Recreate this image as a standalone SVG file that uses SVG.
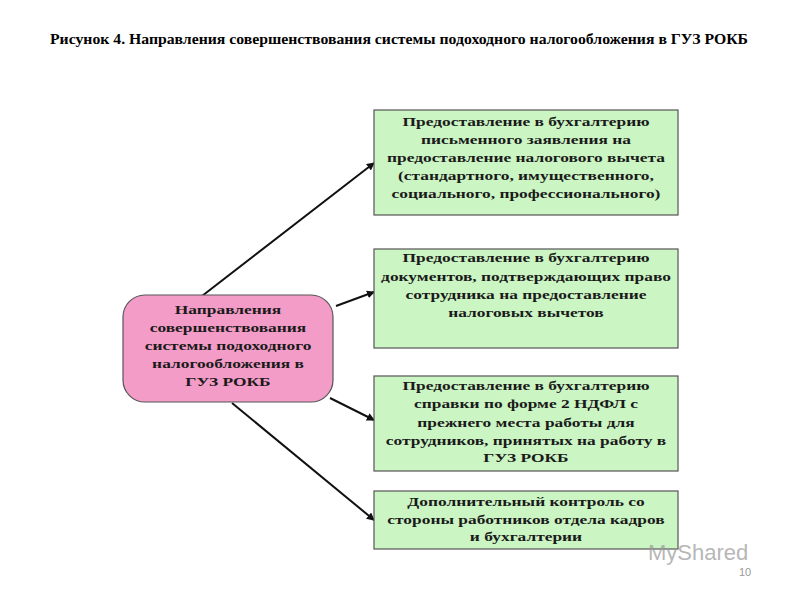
<svg xmlns="http://www.w3.org/2000/svg" width="800" height="600" viewBox="0 0 800 600">
<style>
.t{font-family:"Liberation Serif",serif;font-weight:bold;font-size:12px;fill:#1a1a1a;text-anchor:middle}
.g{fill:#ccf5c4;stroke:#555;stroke-width:1.2}
.c line{stroke:#111;stroke-width:2;marker-end:url(#a)}
</style>
<defs><marker id="a" markerWidth="8" markerHeight="8" refX="7" refY="4" orient="auto" markerUnits="userSpaceOnUse"><path d="M0,0L8,4L0,8z" fill="#111"/></marker></defs>
<rect width="800" height="600" fill="#fff"/>
<text x="50" y="44" textLength="698" lengthAdjust="spacingAndGlyphs" font-family="Liberation Serif,serif" font-weight="bold" font-size="14" fill="#000">Рисунок 4. Направления совершенствования системы подоходного налогообложения в ГУЗ РОКБ</text>
<g class="c">
<line x1="202" y1="296" x2="374" y2="163"/>
<line x1="336" y1="306" x2="374" y2="292"/>
<line x1="330" y1="398" x2="374" y2="420"/>
<line x1="232" y1="403" x2="374" y2="520"/>
</g>
<g id="center"><rect x="123" y="295" width="210" height="107" rx="22" fill="#f49cc8" stroke="#555" stroke-width="1.2"/>
<text class="t" transform="translate(228,0) scale(1.45,1) translate(-228,0)"><tspan x="228" y="314">Направления</tspan><tspan x="228" y="332">совершенствования</tspan><tspan x="228" y="350">системы подоходного</tspan><tspan x="228" y="368">налогообложения в</tspan><tspan x="228" y="386">ГУЗ РОКБ</tspan></text></g>
<g id="b1"><rect class="g" x="374" y="110" width="304" height="105"/>
<text class="t" transform="translate(526,0) scale(1.45,1) translate(-526,0)"><tspan x="526" y="126">Предоставление в бухгалтерию</tspan><tspan x="526" y="144">письменного заявления на</tspan><tspan x="526" y="162">предоставление налогового вычета</tspan><tspan x="526" y="180">(стандартного, имущественного,</tspan><tspan x="526" y="198">социального, профессионального)</tspan></text></g>
<g id="b2"><rect class="g" x="374" y="249" width="304" height="99"/>
<text class="t" transform="translate(526,0) scale(1.45,1) translate(-526,0)"><tspan x="526" y="262">Предоставление в бухгалтерию</tspan><tspan x="526" y="281">документов, подтверждающих право</tspan><tspan x="526" y="299">сотрудника на предоставление</tspan><tspan x="526" y="317">налоговых вычетов</tspan></text></g>
<g id="b3"><rect class="g" x="374" y="376" width="304" height="95"/>
<text class="t" transform="translate(526,0) scale(1.45,1) translate(-526,0)"><tspan x="526" y="390">Предоставление в бухгалтерию</tspan><tspan x="526" y="408">справки по форме 2 НДФЛ с</tspan><tspan x="526" y="427">прежнего места работы для</tspan><tspan x="526" y="445">сотрудников, принятых  на работу в</tspan><tspan x="526" y="462">ГУЗ РОКБ</tspan></text></g>
<g id="b4"><rect class="g" x="374" y="491" width="304" height="58"/>
<text class="t" transform="translate(526,0) scale(1.45,1) translate(-526,0)"><tspan x="526" y="506">Дополнительный контроль со</tspan><tspan x="526" y="524">стороны работников отдела кадров</tspan><tspan x="526" y="541">и бухгалтерии</tspan></text></g>
<text x="648" y="560" font-family="Liberation Sans,sans-serif" font-size="22" fill="#999" opacity="0.7">MyShared</text>
<text x="745" y="576" font-family="Liberation Sans,sans-serif" font-size="11" fill="#999" text-anchor="middle">10</text>
</svg>
